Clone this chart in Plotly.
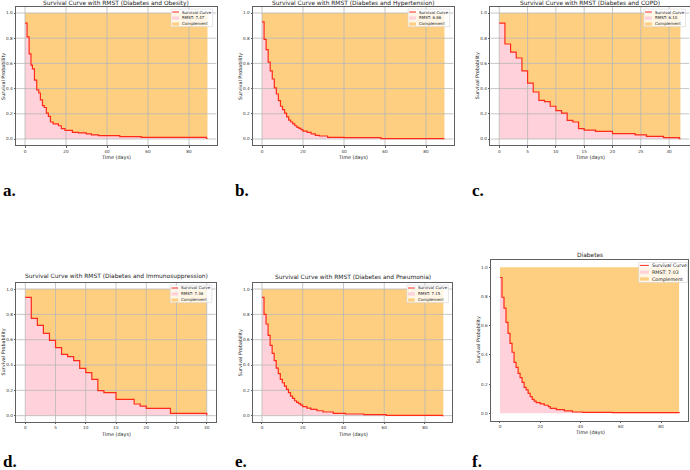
import plotly.graph_objects as go

W, H = 690, 470

# ---------------- data ----------------
titles = [
    "Survival Curve with RMST (Diabetes and Obesity)",
    "Survival Curve with RMST (Diabetes and Hypertension)",
    "Survival Curve with RMST (Diabetes and COPD)",
    "Survival Curve with RMST (Diabetes and Immunosuppression)",
    "Survival Curve with RMST (Diabetes and Pneumonia)",
    "Diabetes",
]
rmst_values = [7.47, 6.86, 6.10, 7.36, 7.15, 7.03]
panel_letters = ["a.", "b.", "c.", "d.", "e.", "f."]
legend_names = ["Survival Curve", "RMST", "Complement"]
x_title = "Time (days)"
y_title = "Survival Probability"

t_obesity = [0, 1, 2, 2.9, 3.6, 4.6, 5.7, 6.7, 7.5, 8.5, 9.4, 10.4, 11.4, 12.4, 13.7, 16.3,
             17.7, 19.5, 23.1, 26.0, 29.9, 32.4, 35.8, 46.2, 56.7, 88.5, 89]
s_obesity = [0.92, 0.81, 0.675, 0.587, 0.556, 0.468, 0.39, 0.365, 0.31, 0.265, 0.25, 0.206,
             0.18, 0.135, 0.12, 0.105, 0.082, 0.069, 0.053, 0.048, 0.04, 0.032, 0.026, 0.019,
             0.013, 0.005, 0.005]

t_hyper = [0, 1, 2, 3, 4, 5, 6, 7, 8, 9, 10, 11, 12, 13, 14, 15, 16, 17, 18, 19, 20,
           22, 24, 26, 28, 32, 40, 58, 88.5, 89]
s_hyper = [0.93, 0.79, 0.71, 0.61, 0.54, 0.476, 0.405, 0.357, 0.304, 0.26, 0.233, 0.206,
           0.175, 0.15, 0.135, 0.12, 0.105, 0.093, 0.085, 0.074, 0.063,
           0.053, 0.04, 0.029, 0.024, 0.013, 0.011, 0.003, 0.002, 0.002]

t_copd = [0, 1, 2, 3, 4, 5, 6, 7, 8, 9, 10, 11, 12, 13, 14, 15, 17, 20, 24, 26, 29, 31.8, 32]
s_copd = [0.92, 0.754, 0.69, 0.643, 0.54, 0.444, 0.373, 0.307, 0.296, 0.26, 0.225, 0.206,
          0.148, 0.135, 0.082, 0.071, 0.061, 0.042, 0.032, 0.021, 0.011, 0.003, 0.003]

t_immuno = [0, 1, 2, 3, 4, 5, 6, 7, 8, 9, 10, 11, 12, 13, 15, 18, 19, 20, 24, 30]
s_immuno = [0.934, 0.768, 0.713, 0.65, 0.595, 0.537, 0.484, 0.466, 0.434, 0.374, 0.34,
            0.287, 0.197, 0.182, 0.129, 0.092, 0.076, 0.058, 0.018, 0.003]

t_pneu = [0, 1, 2, 3, 4, 5, 6, 7, 8, 9, 10, 11, 12, 13, 14, 15, 16, 17, 18, 19, 20,
          22, 24, 27, 30, 35, 41, 50, 61, 88.5, 89]
s_pneu = [0.934, 0.8, 0.724, 0.634, 0.555, 0.492, 0.434, 0.376, 0.332, 0.287, 0.26, 0.234,
          0.208, 0.182, 0.155, 0.137, 0.118, 0.105, 0.095, 0.084, 0.071,
          0.06, 0.05, 0.039, 0.029, 0.018, 0.013, 0.008, 0.003, 0.001, 0.001]

t_diab = [0, 1, 2, 3, 4, 5, 6, 7, 8, 9, 10, 11, 12, 13, 14, 15, 16, 17, 18,
          20, 22, 24, 25, 28, 32, 36, 41, 56, 89]
s_diab = [0.93, 0.795, 0.72, 0.623, 0.548, 0.479, 0.418, 0.349, 0.315, 0.274, 0.244, 0.212,
          0.178, 0.16, 0.137, 0.114, 0.096, 0.084, 0.073,
          0.064, 0.055, 0.046, 0.034, 0.025, 0.016, 0.009, 0.007, 0.005, 0.002]

series_t = [t_obesity, t_hyper, t_copd, t_immuno, t_pneu, t_diab]
series_s = [s_obesity, s_hyper, s_copd, s_immuno, s_pneu, s_diab]
x_ticks = [[0, 20, 40, 60, 80], [0, 20, 40, 60, 80], [0, 5, 10, 15, 20, 25, 30],
           [0, 5, 10, 15, 20, 25, 30], [0, 20, 40, 60, 80], [0, 20, 40, 60, 80]]
y_ticks = [0.0, 0.2, 0.4, 0.6, 0.8, 1.0]

# ---------------- layout specs (pixels) ----------------
# frame: left, right, top, bottom
frames = [
    (15.9, 216.6, 6.7, 145.3),
    (252.9, 453.6, 6.7, 145.3),
    (490.2, 689.5, 6.7, 145.3),
    (16.2, 215.8, 282.7, 422.0),
    (252.9, 452.4, 282.7, 422.0),
    (491.0, 688.1, 260.0, 420.6),
]
title_y = [3.2, 3.2, 3.2, 276.7, 276.7, 255.3]
grid_on = [True, True, True, True, True, False]
letter_pos = [(1, 190), (233, 190), (470, 190), (1, 461), (233, 461), (470, 461)]

ORANGE = "#FECF80"
PINK = "#FFD1DA"
RED = "#FF2A1A"
GRID = "#b8b8b8"
FRAME = "#606060"
TXT = "#333333"
FONT = "DejaVu Sans"


def px(x):
    return x / W


def py(y):
    return 1 - y / H


fig = go.Figure()
shapes = []
annotations = []
layout_axes = {}

for i in range(6):
    n = i + 1
    xa = "x" if n == 1 else f"x{n}"
    ya = "y" if n == 1 else f"y{n}"
    t = series_t[i]
    s = series_s[i]
    T = t[-1]
    l, r, tp, b = frames[i]
    xr = [-0.05 * T, 1.05 * T]
    yr = [-0.05, 1.05]

    # complement fill (between curve and 1)
    fig.add_trace(go.Scatter(x=[t[0], T], y=[1, 1], mode="lines", line=dict(width=0, color=ORANGE),
                             xaxis=xa, yaxis=ya, showlegend=False, hoverinfo="skip"))
    fig.add_trace(go.Scatter(x=t, y=s, mode="lines", line=dict(width=0, shape="hv", color=ORANGE),
                             fill="tonexty", fillcolor=ORANGE, xaxis=xa, yaxis=ya,
                             showlegend=False, hoverinfo="skip"))
    # RMST area
    fig.add_trace(go.Scatter(x=t, y=s, mode="lines", line=dict(width=0, shape="hv", color=PINK),
                             fill="tozeroy", fillcolor=PINK, xaxis=xa, yaxis=ya,
                             showlegend=False, hoverinfo="skip"))
    # grid lines above fills
    if grid_on[i]:
        gx, gy = [], []
        for v in x_ticks[i]:
            gx += [v, v, None]
            gy += [yr[0], yr[1], None]
        for v in y_ticks:
            gx += [xr[0], xr[1], None]
            gy += [v, v, None]
        fig.add_trace(go.Scatter(x=gx, y=gy, mode="lines", line=dict(width=0.8, color=GRID),
                                 xaxis=xa, yaxis=ya, showlegend=False, hoverinfo="skip"))
    # survival curve
    fig.add_trace(go.Scatter(x=t, y=s, mode="lines", line=dict(width=1.2, shape="hv", color=RED),
                             xaxis=xa, yaxis=ya, showlegend=False, hoverinfo="skip"))

    common = dict(showline=True, linecolor=FRAME, linewidth=0.8, mirror=True, ticks="outside",
                  ticklen=1.5, tickwidth=0.6, tickcolor=FRAME, showgrid=False, zeroline=False,
                  tickfont=dict(family=FONT, size=4.2, color=TXT))
    layout_axes["xaxis" if n == 1 else f"xaxis{n}"] = dict(
        domain=[px(l), px(r)], range=xr, anchor=ya, tickvals=x_ticks[i],
        ticktext=[str(v) for v in x_ticks[i]], **common)
    layout_axes["yaxis" if n == 1 else f"yaxis{n}"] = dict(
        domain=[py(b), py(tp)], range=yr, anchor=xa, tickvals=y_ticks,
        ticktext=[f"{v:.1f}" for v in y_ticks], **common)

    # title
    annotations.append(dict(text=titles[i], x=px((l + r) / 2), y=py(title_y[i]), xref="paper",
                             yref="paper", xanchor="center", yanchor="middle", showarrow=False,
                             font=dict(family=FONT, size=5.9, color="#222")))
    # axis titles
    annotations.append(dict(text=x_title, x=px((l + r) / 2), y=py(b + 12.0), xref="paper",
                             yref="paper", xanchor="center", yanchor="middle", showarrow=False,
                             borderpad=0,
                             font=dict(family=FONT, size=4.9, color="#222")))
    annotations.append(dict(text=y_title, x=px(l - 13), y=py((tp + b) / 2), xref="paper",
                             yref="paper", xanchor="center", yanchor="middle", showarrow=False,
                             textangle=-90, font=dict(family=FONT, size=4.9, color="#222")))
    # panel letter
    lx, ly = letter_pos[i]
    annotations.append(dict(text="<b>" + panel_letters[i] + "</b>", x=px(lx), y=py(ly),
                             xref="paper", yref="paper", xanchor="left", yanchor="middle",
                             showarrow=False,
                             font=dict(family="Liberation Serif", size=17, color="black")))

    # legend (drawn manually to keep its compact matplotlib size)
    if i == 5:
        lw, lh, inset_r, inset_t, fs, rowh, symw = 49.0, 20.0, 0.5, 2.5, 4.8, 6.8, 9.0
    else:
        lw, lh, inset_r, inset_t, fs, rowh, symw = 41.6, 17.6, 4.0, 2.4, 4.0, 6.0, 6.8
    bl = r - inset_r - lw
    bt = tp + inset_t
    shapes.append(dict(type="rect", xref="paper", yref="paper", x0=px(bl), x1=px(bl + lw),
                       y0=py(bt + lh), y1=py(bt), fillcolor="rgba(255,255,255,0.8)",
                       line=dict(color="#cccccc", width=0.5)))
    labels = [legend_names[0], f"{legend_names[1]}: {rmst_values[i]:.2f}", legend_names[2]]
    for k in range(3):
        cy = bt + 2.9 + rowh * k
        sx0, sx1 = bl + 1.2, bl + 1.2 + symw
        if k == 0:
            shapes.append(dict(type="line", xref="paper", yref="paper", x0=px(sx0), x1=px(sx1),
                               y0=py(cy), y1=py(cy), line=dict(color=RED, width=1.0)))
        else:
            shapes.append(dict(type="rect", xref="paper", yref="paper", x0=px(sx0), x1=px(sx1),
                               y0=py(cy + 1.6), y1=py(cy - 1.6),
                               fillcolor=PINK if k == 1 else ORANGE, line=dict(width=0)))
        annotations.append(dict(text=labels[k], x=px(sx1 + 1.8), y=py(cy), xref="paper",
                                 yref="paper", xanchor="left", yanchor="middle", showarrow=False,
                                 borderpad=0, font=dict(family=FONT, size=fs, color="#222")))

fig.update_layout(
    width=W, height=H, margin=dict(l=0, r=0, t=0, b=0, pad=0),
    paper_bgcolor="white", plot_bgcolor="white", showlegend=False,
    shapes=shapes, annotations=annotations, **layout_axes,
)

fig.write_html("out.html")
